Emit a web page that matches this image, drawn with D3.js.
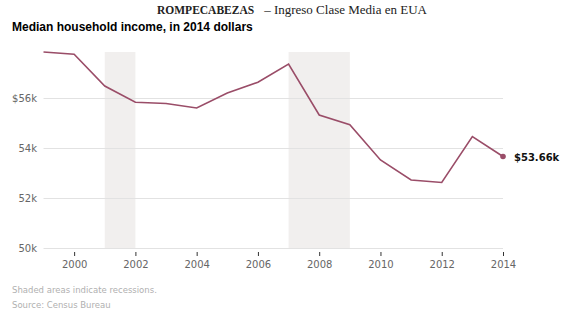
<!DOCTYPE html>
<meta charset="utf-8">
<script src="https://cdn.jsdelivr.net/npm/d3@7"></script>
<style>
body {margin: 0; background: #fff;}
svg text {font-family: "DejaVu Sans", sans-serif;}
.grid line {stroke: #e2e2e2;}
.ytick {fill: #666; font-size: 10px;}
.note {fill: #b0b0b0; font-size: 8.5px;}
</style>
<div id="vis"></div>
<script>
// data
var years = [1999, 2000, 2001, 2002, 2003, 2004, 2005, 2006, 2007, 2008, 2009, 2010, 2011, 2012, 2013, 2014];
var income = [57840, 57750, 56480, 55830, 55780, 55600, 56200, 56630, 57360, 55320, 54930, 53520, 52720, 52620, 54460, 53660];
var recessions = [[2001, 2002], [2007, 2009]];
var yTicks = [50000, 52000, 54000, 56000];
var xTicks = [2000, 2002, 2004, 2006, 2008, 2010, 2012, 2014];

var width = 563, height = 315;

var svg = d3.select("#vis").append("svg")
    .attr("width", width)
    .attr("height", height);

var x = d3.scaleLinear().domain([1999, 2014]).range([43.5, 503]);
var y = d3.scaleLinear().domain([50000, 57840]).range([248, 52]);

// title
var title = svg.append("text")
    .attr("x", 157)
    .attr("y", 14)
    .style("font-family", "'Liberation Serif', 'Times New Roman', serif")
    .attr("fill", "#222");
title.append("tspan").style("font-weight", "bold").style("font-size", "11.5px").text("ROMPECABEZAS");
title.append("tspan").attr("dx", 10).style("font-size", "13px").text("\u2013 Ingreso Clase Media en EUA");

svg.append("text")
    .attr("x", 12)
    .attr("y", 31)
    .style("font-family", "'Liberation Sans', Arial, sans-serif")
    .style("font-weight", "bold")
    .style("font-size", "12px")
    .attr("fill", "#000")
    .text("Median household income, in 2014 dollars");

// recession shading
svg.selectAll("rect.rec")
    .data(recessions)
  .enter().append("rect")
    .attr("class", "rec")
    .attr("x", function(d) { return x(d[0]); })
    .attr("y", y.range()[1])
    .attr("width", function(d) { return x(d[1]) - x(d[0]); })
    .attr("height", y.range()[0] - y.range()[1])
    .attr("fill", "#f1efee");

// gridlines
var grid = svg.append("g").attr("class", "grid");
grid.selectAll("line")
    .data(yTicks)
  .enter().append("line")
    .attr("x1", x(1999))
    .attr("x2", x(2014))
    .attr("y1", function(d) { return y(d) + 0.5; })
    .attr("y2", function(d) { return y(d) + 0.5; });

svg.selectAll("text.ytick")
    .data(yTicks)
  .enter().append("text")
    .attr("class", "ytick")
    .attr("x", 37)
    .attr("y", function(d) { return y(d) + 4; })
    .attr("text-anchor", "end")
    .text(function(d) { return (d === 56000 ? "$" : "") + d / 1000 + "k"; });

// x axis: small ticks and labels
var xAxis = d3.axisBottom(x)
    .tickValues(xTicks)
    .tickSize(4)
    .tickPadding(5)
    .tickFormat(d3.format("d"));
var gx = svg.append("g")
    .attr("transform", "translate(0,252)")
    .call(xAxis);
gx.select(".domain").remove();
gx.selectAll(".tick line").attr("stroke", "#333");
gx.selectAll(".tick text")
    .attr("fill", "#666")
    .style("font-size", "10px")
    .style("font-family", "'DejaVu Sans', sans-serif");

// line
var line = d3.line()
    .x(function(d, i) { return x(years[i]); })
    .y(function(d) { return y(d); });

svg.append("path")
    .datum(income)
    .attr("fill", "none")
    .attr("stroke", "#9a4d68")
    .attr("stroke-width", 1.6)
    .attr("d", line);

// end point
var last = income.length - 1;
svg.append("circle")
    .attr("cx", x(years[last]))
    .attr("cy", y(income[last]))
    .attr("r", 2.8)
    .attr("fill", "#9a4d68");

svg.append("text")
    .attr("x", x(years[last]) + 11)
    .attr("y", y(income[last]) + 4)
    .style("font-weight", "bold")
    .style("font-size", "10px")
    .attr("fill", "#111")
    .text("$" + d3.format(".2f")(income[last] / 1000) + "k");

// notes
svg.append("text").attr("class", "note")
    .attr("x", 12).attr("y", 293)
    .text("Shaded areas indicate recessions.");
svg.append("text").attr("class", "note")
    .attr("x", 12).attr("y", 308)
    .text("Source: Census Bureau");
</script>
